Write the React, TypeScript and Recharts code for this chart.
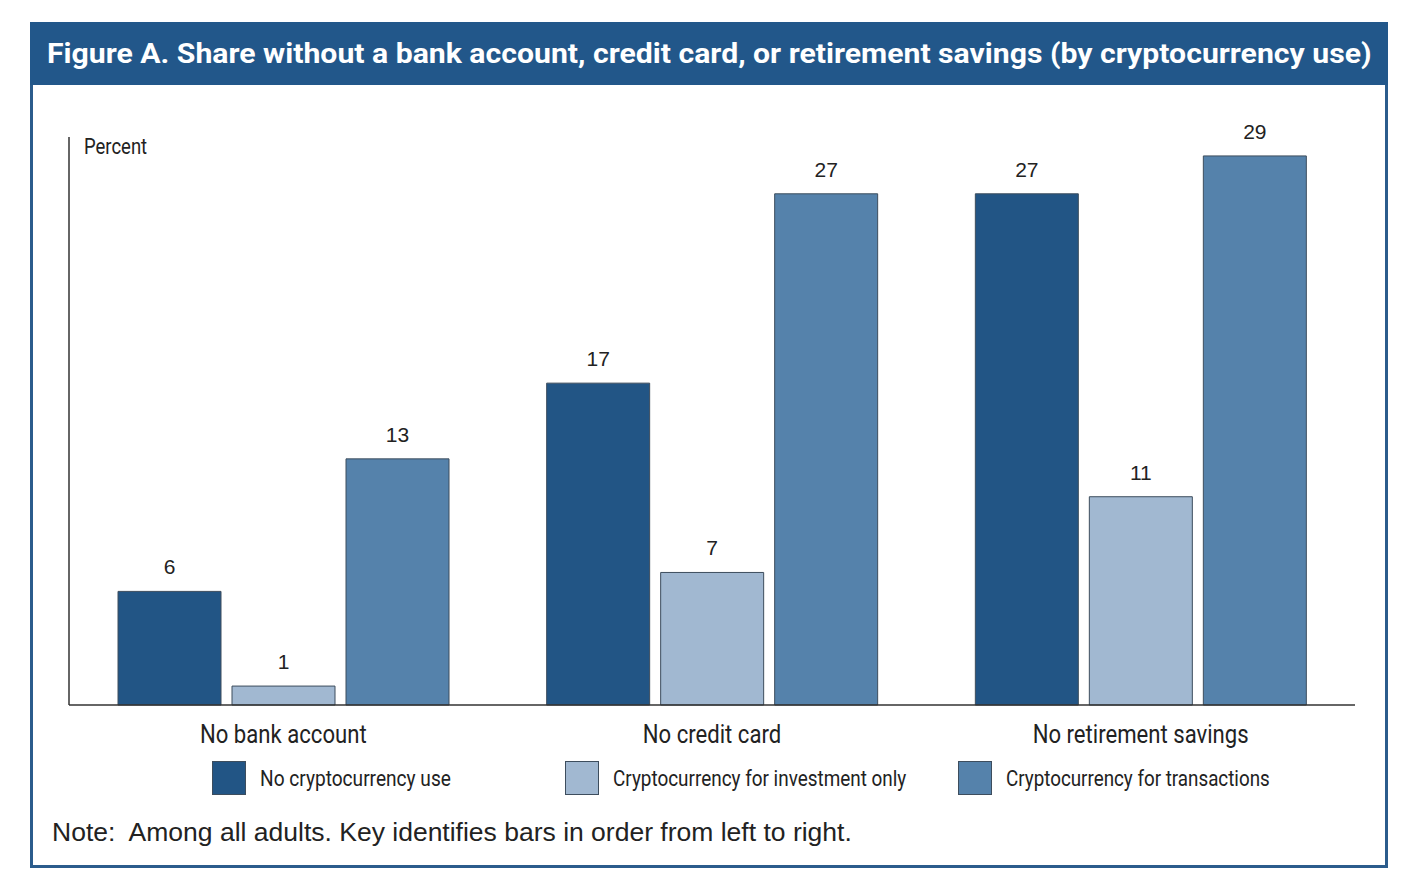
import { useLayoutEffect, useRef, useState } from "react";
import { Bar, BarChart, LabelList, XAxis, YAxis } from "recharts";

const CATEGORIES = ["No bank account", "No credit card", "No retirement savings"];
const NO_CRYPTO = [6, 17, 27];
const INVEST_ONLY = [1, 7, 11];
const TRANSACTIONS = [13, 27, 29];

const SERIES = [
  { key: "noCrypto", name: "No cryptocurrency use", color: "#225585" },
  { key: "investOnly", name: "Cryptocurrency for investment only", color: "#a1b8d1" },
  { key: "transactions", name: "Cryptocurrency for transactions", color: "#5582ab" },
];

const data = CATEGORIES.map((category, i) => ({
  category,
  noCrypto: NO_CRYPTO[i],
  investOnly: INVEST_ONLY[i],
  transactions: TRANSACTIONS[i],
}));

const NARROW = 'Roboto, "Liberation Sans", sans-serif';
const CONDENSE = 0.885;
// legend placement: left edge of swatch, and text width in the reference
const LEGEND_X = [212, 565, 958];
const LEGEND_W = [191, 293, 264];

// squeezes a single line of text horizontally to a given width
function FitText({ width, align = "left", style, children }: any) {
  const ref = useRef<HTMLSpanElement>(null);
  const [scale, setScale] = useState(1);
  useLayoutEffect(() => {
    const w = ref.current?.offsetWidth;
    if (w) setScale(width / w);
  }, [width, children]);
  return (
    <span
      ref={ref}
      style={{
        display: "inline-block",
        whiteSpace: "nowrap",
        transform: `scaleX(${scale})`,
        transformOrigin: align === "center" ? "center" : "left",
        ...style,
      }}
    >
      {children}
    </span>
  );
}

function CategoryTick({ x, y, payload }: any) {
  return (
    <text
      x={x}
      y={y}
      dy="0.71em"
      textAnchor="middle"
      fontSize={25}
      fill="#222"
      fontFamily={NARROW}
      transform={`translate(${x} ${y}) scale(${CONDENSE} 1) translate(${-x} ${-y})`}
    >
      {payload.value}
    </text>
  );
}

export default function App() {
  return (
    <div
      style={{
        position: "absolute",
        left: 0,
        top: 0,
        width: 1408,
        height: 892,
        background: "#fff",
        overflow: "hidden",
      }}
    >
      <div
        style={{
          position: "absolute",
          left: 30,
          top: 22,
          width: 1352,
          height: 840,
          border: "3px solid #2b5c8c",
        }}
      />
      <div
        style={{
          position: "absolute",
          left: 30,
          top: 22,
          width: 1358,
          height: 63,
          background: "#22578a",
          color: "#fff",
          fontFamily: NARROW,
          fontWeight: 700,
          fontSize: 28,
          lineHeight: "63px",
          textAlign: "center",
        }}
      >
        <FitText width={1325} align="center">
          Figure A. Share without a bank account, credit card, or retirement savings (by cryptocurrency use)
        </FitText>
      </div>

      <div style={{ position: "absolute", left: 0, top: 0 }}>
        <BarChart
          width={1408}
          height={760}
          data={data}
          margin={{ top: 137, right: 53, bottom: 25, left: 68 }}
          barCategoryGap={49}
          barGap={11}
        >
          <YAxis
            domain={[0, 30]}
            width={1}
            tick={false}
            tickLine={false}
            axisLine={{ stroke: "#333", strokeWidth: 1.5 }}
          />
          <XAxis
            dataKey="category"
            height={30}
            tickLine={false}
            axisLine={{ stroke: "#333", strokeWidth: 1.5 }}
            tickMargin={14}
            tick={<CategoryTick />}
          />
          {SERIES.map((s) => (
            <Bar
              key={s.key}
              dataKey={s.key}
              name={s.name}
              fill={s.color}
              stroke="#3d4d5d"
              strokeWidth={1}
              isAnimationActive={false}
            >
              <LabelList
                dataKey={s.key}
                position="top"
                offset={17}
                style={{ fontSize: 21, fill: "#222", fontFamily: '"Liberation Sans", Arial, sans-serif' }}
              />
            </Bar>
          ))}
        </BarChart>
      </div>

      <div
        style={{
          position: "absolute",
          left: 84,
          top: 134,
          fontFamily: NARROW,
          fontSize: 22,
          color: "#222",
        }}
      >
        <FitText width={63}>Percent</FitText>
      </div>

      {SERIES.map((s, i) => (
        <div
          key={s.key}
          style={{
            position: "absolute",
            left: LEGEND_X[i],
            top: 761,
            display: "flex",
            alignItems: "center",
            fontFamily: NARROW,
            fontSize: 22,
            color: "#222",
            whiteSpace: "nowrap",
          }}
        >
          <span
            style={{
              display: "inline-block",
              width: 32,
              height: 32,
              background: s.color,
              border: "1px solid #3d4d5d",
              marginRight: 14,
            }}
          />
          <FitText width={LEGEND_W[i]}>{s.name}</FitText>
        </div>
      ))}

      <div
        style={{
          position: "absolute",
          left: 52,
          top: 817,
          fontFamily: '"Liberation Sans", Arial, sans-serif',
          fontSize: 26.5,
          color: "#222",
          whiteSpace: "pre",
        }}
      >
        {"Note:  Among all adults. Key identifies bars in order from left to right."}
      </div>
    </div>
  );
}
